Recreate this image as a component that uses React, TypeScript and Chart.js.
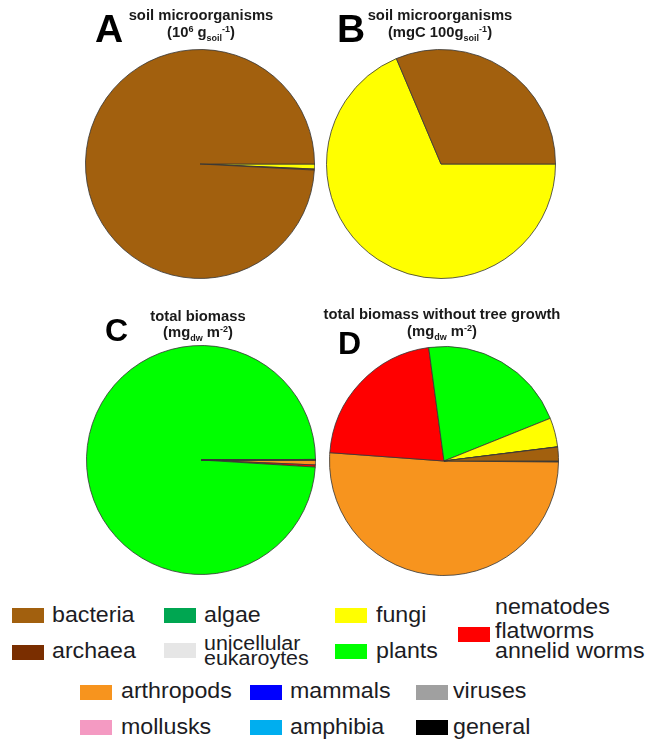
import React, { useEffect, useRef } from "react";
import { Chart, registerables } from "chart.js";

Chart.register(...registerables);

// ---------- data ----------
const categories = [
  "bacteria",
  "archaea",
  "algae",
  "unicellular eukaroytes",
  "fungi",
  "plants",
  "nematodes flatworms annelid worms",
  "arthropods",
  "mollusks",
  "mammals",
  "amphibia",
  "viruses",
  "general",
];

const legendLines = [
  ["bacteria"],
  ["archaea"],
  ["algae"],
  ["unicellular", "eukaroytes"],
  ["fungi"],
  ["plants"],
  ["nematodes", "flatworms", "annelid worms"],
  ["arthropods"],
  ["mollusks"],
  ["mammals"],
  ["amphibia"],
  ["viruses"],
  ["general"],
];

const categoryColors = [
  "#A2600E",
  "#7A2E00",
  "#00A651",
  "#E6E6E6",
  "#FFFF00",
  "#00FF00",
  "#FF0000",
  "#F7941E",
  "#F49AC2",
  "#0000FF",
  "#00AEEF",
  "#A0A0A0",
  "#000000",
];

// A: soil microorganisms (10^6 g_soil^-1)
const soilCountsA = [990, 1.5, 0, 0, 7, 0, 0, 0, 0, 0, 0, 0, 0];
// B: soil microorganisms (mgC 100g_soil^-1)
const soilCarbonB = [32, 0, 0, 0, 70, 0, 0, 0, 0, 0, 0, 0, 0];
// C: total biomass (mg_dw m^-2)
const totalBiomassC = [1.95, 0.03, 0, 0, 4.1, 7300, 21.7, 51, 0, 0, 0, 0.05, 0.1];
// D: total biomass without tree growth (mg_dw m^-2)
const biomassNoTreesD = [1.95, 0.03, 0, 0, 4.1, 21.05, 21.7, 51, 0, 0, 0, 0.05, 0.1];

// ---------- layout ----------
const FONT = '"Liberation Sans", Arial, Helvetica, sans-serif';
const PIE_BOX = 232;
const PIE_RADIUS = 114.5;

const legendSlots = [
  { sx: 12, sy: 608, tx: 53, base: [623] },
  { sx: 12, sy: 644.5, tx: 53, base: [659.3] },
  { sx: 163.5, sy: 608, tx: 205, base: [623] },
  { sx: 163.5, sy: 643, tx: 205, base: [649.5, 664.5], small: true },
  { sx: 335, sy: 608, tx: 377, base: [623] },
  { sx: 335, sy: 643.5, tx: 377, base: [658.5] },
  { sx: 457.5, sy: 626.5, tx: 496, base: [614.5, 639, 659] },
  { sx: 80, sy: 684.5, tx: 122, base: [698.5] },
  { sx: 80, sy: 720, tx: 122, base: [734.5] },
  { sx: 249.5, sy: 684.5, tx: 291, base: [698.5] },
  { sx: 249.5, sy: 720, tx: 291, base: [734.5] },
  { sx: 416, sy: 684.5, tx: 454, base: [698.5] },
  { sx: 415.5, sy: 720, tx: 454, base: [734.5] },
];

function PieChart({ values, cx, cy }: { values: number[]; cx: number; cy: number }) {
  const ref = useRef<HTMLCanvasElement | null>(null);
  useEffect(() => {
    const rev = <T,>(a: T[]) => [...a].reverse();
    const chart = new Chart(ref.current as HTMLCanvasElement, {
      type: "pie",
      data: {
        labels: rev(categories),
        datasets: [
          {
            data: rev(values),
            backgroundColor: rev(categoryColors),
            borderColor: "rgba(55,55,55,0.9)",
            borderWidth: 0.9,
          },
        ],
      },
      options: {
        responsive: false,
        animation: false,
        devicePixelRatio: 1,
        rotation: 90,
        radius: PIE_RADIUS,
        events: [],
        layout: { padding: 0 },
        plugins: {
          legend: { display: false },
          tooltip: { enabled: false },
          title: { display: false },
        },
      } as any,
    });
    return () => chart.destroy();
  }, [values]);
  return (
    <canvas
      ref={ref}
      width={PIE_BOX}
      height={PIE_BOX}
      style={{
        position: "absolute",
        left: cx - PIE_BOX / 2,
        top: cy - PIE_BOX / 2,
        width: PIE_BOX,
        height: PIE_BOX,
      }}
    />
  );
}

const sub = (t: string) => (
  <span style={{ fontSize: 9, position: "relative", top: 4, lineHeight: 0 }}>{t}</span>
);
const sup = (t: string) => (
  <span style={{ fontSize: 9, position: "relative", top: -5, lineHeight: 0 }}>{t}</span>
);

function TitleLine({ cx, baseline, children }: { cx: number; baseline: number; children: React.ReactNode }) {
  const F = 14.8;
  return (
    <div
      style={{
        position: "absolute",
        left: cx - 160,
        width: 320,
        top: baseline - 0.8465 * F,
        height: F,
        lineHeight: `${F}px`,
        fontSize: F,
        fontWeight: "bold",
        fontFamily: FONT,
        color: "#1a1a1a",
        textAlign: "center",
        whiteSpace: "nowrap",
      }}
    >
      {children}
    </div>
  );
}

function BigLetter({ left, baseline, size, text }: { left: number; baseline: number; size: number; text: string }) {
  return (
    <div
      style={{
        position: "absolute",
        left,
        top: baseline - 0.8465 * size,
        height: size,
        lineHeight: `${size}px`,
        fontSize: size,
        fontWeight: "bold",
        fontFamily: FONT,
        color: "#000",
      }}
    >
      {text}
    </div>
  );
}

function Legend() {
  return (
    <>
      {categories.map((c, i) => {
        const s = legendSlots[i];
        const F = s.small ? 20 : 22.3;
        const scale = s.small ? 1.07 : 1.04;
        return (
          <React.Fragment key={c}>
            <div
              style={{
                position: "absolute",
                left: s.sx,
                top: s.sy,
                width: 32,
                height: 15,
                background: categoryColors[i],
              }}
            />
            {legendLines[i].map((line, j) => (
              <div
                key={j}
                style={{
                  position: "absolute",
                  left: s.tx - 1,
                  top: s.base[j] - 0.8465 * F,
                  height: F,
                  lineHeight: `${F}px`,
                  fontSize: F,
                  fontFamily: FONT,
                  color: "#1c1c24",
                  whiteSpace: "nowrap",
                  transform: `scaleX(${scale})`,
                  transformOrigin: "0 0",
                }}
              >
                {line}
              </div>
            ))}
          </React.Fragment>
        );
      })}
    </>
  );
}

export default function App() {
  return (
    <div
      style={{
        position: "absolute",
        left: 0,
        top: 0,
        width: 648,
        height: 739,
        background: "#fff",
        overflow: "hidden",
      }}
    >
      <PieChart values={soilCountsA} cx={200} cy={164} />
      <PieChart values={soilCarbonB} cx={440.5} cy={164} />
      <PieChart values={totalBiomassC} cx={201} cy={460} />
      <PieChart values={biomassNoTreesD} cx={444} cy={460.5} />

      <BigLetter left={95} baseline={42} size={39} text="A" />
      <BigLetter left={337} baseline={42} size={39} text="B" />
      <BigLetter left={105} baseline={341} size={32} text="C" />
      <BigLetter left={338} baseline={354} size={32} text="D" />

      <TitleLine cx={201} baseline={20.6}>soil microorganisms</TitleLine>
      <TitleLine cx={201} baseline={38}>
        (10{sup("6")} g{sub("soil")}{sup("-1")})
      </TitleLine>
      <TitleLine cx={440} baseline={20.6}>soil microorganisms</TitleLine>
      <TitleLine cx={440} baseline={38}>
        (mgC 100g{sub("soil")}{sup("-1")})
      </TitleLine>
      <TitleLine cx={198} baseline={322}>total biomass</TitleLine>
      <TitleLine cx={198} baseline={338}>
        (mg{sub("dw")} m{sup("-2")})
      </TitleLine>
      <TitleLine cx={442} baseline={320}>total biomass without tree growth</TitleLine>
      <TitleLine cx={442} baseline={337}>
        (mg{sub("dw")} m{sup("-2")})
      </TitleLine>

      <Legend />
    </div>
  );
}
